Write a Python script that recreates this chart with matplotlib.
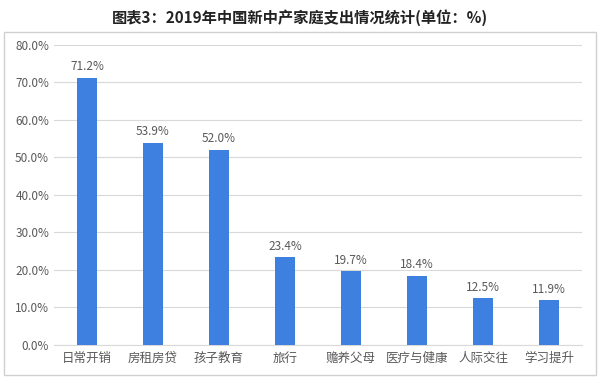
import matplotlib
matplotlib.use("Agg")
import matplotlib.pyplot as plt
from matplotlib.patches import Rectangle
from matplotlib.ticker import FuncFormatter

plt.rcParams['font.family'] = ['Noto Sans CJK SC', 'DejaVu Sans']

title = "图表3：2019年中国新中产家庭支出情况统计(单位：%)"
categories = ["日常开销", "房租房贷", "孩子教育", "旅行", "赡养父母", "医疗与健康", "人际交往", "学习提升"]
values = [71.2, 53.9, 52.0, 23.4, 19.7, 18.4, 12.5, 11.9]
yticks = [0, 10, 20, 30, 40, 50, 60, 70, 80]

bar_color = "#3d80e0"
text_color = "#595959"

fig = plt.figure(figsize=(6, 3.81), dpi=100)
ax = fig.add_axes([0.09, 0.0945, 0.88, 0.7875])

x = range(len(categories))
bars = ax.bar(x, values, width=0.3, color=bar_color, zorder=3)
for b, v in zip(bars, values):
    ax.text(b.get_x() + b.get_width() / 2, v + 1.2, f"{v:.1f}%",
            ha="center", va="bottom", fontsize=8.5, color=text_color)

ax.set_xlim(-0.5, len(categories) - 0.5)
ax.set_ylim(0, 80)
ax.set_yticks(yticks)
ax.yaxis.set_major_formatter(FuncFormatter(lambda v, p: f"{v:.1f}%"))
ax.set_xticks(list(x))
ax.set_xticklabels(categories)
ax.tick_params(axis="both", length=0, labelsize=8.5, colors=text_color)
ax.tick_params(axis="x", pad=5, labelsize=9)
ax.grid(axis="y", color="#d9d9d9", linewidth=0.8, zorder=0)
for s in ["top", "right", "left"]:
    ax.spines[s].set_visible(False)
ax.spines["bottom"].set_color("#d9d9d9")

fig.text(0.5, 0.955, title, ha="center", va="center", fontsize=11,
         fontweight="bold", color="#222222")

fig.patches.append(Rectangle((0.006, 0.015), 0.988, 0.9, transform=fig.transFigure,
                             fill=False, edgecolor="#d0d0d0", linewidth=1))

fig.savefig("out.png", dpi=100)
